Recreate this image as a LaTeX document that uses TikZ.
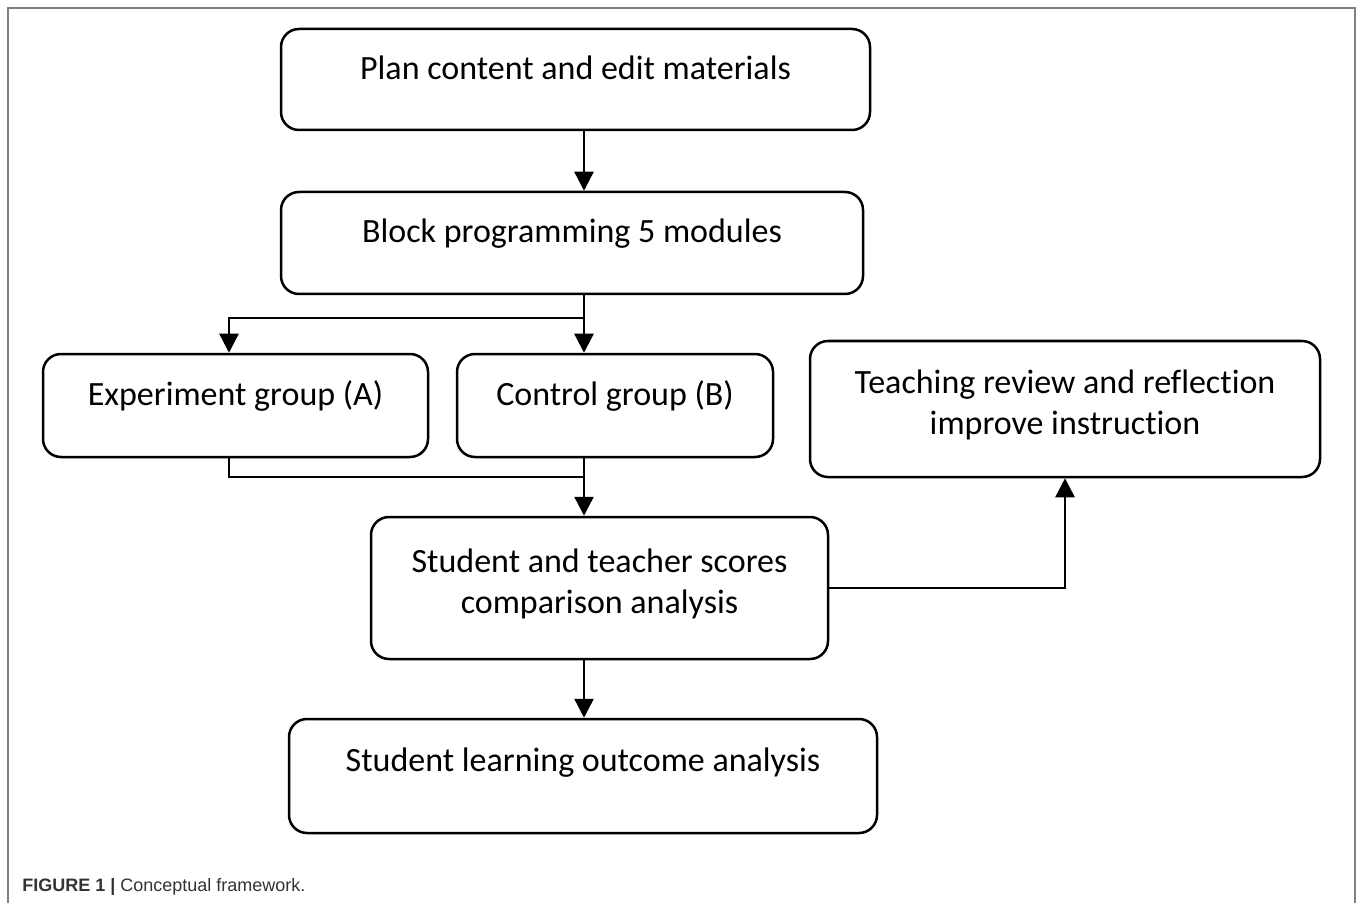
\documentclass[tikz,border=0pt]{standalone}
\usepackage{fontspec}
\setmainfont{Carlito}[Ligatures={NoCommon,NoDiscretionary,NoRare}]
\newfontfamily\capfont{Liberation Sans}
\usetikzlibrary{arrows.meta}
\begin{document}
\begin{tikzpicture}[x=0.5pt,y=-0.5pt,
  box/.style={draw=black, line width=1.25pt, rounded corners=9pt, inner sep=0pt,
    align=center, font=\fontsize{17}{20.5}\selectfont, text height=0pt, text depth=0pt},
  link/.style={line width=1.25pt},
  arr/.style={link, -{Triangle[width=9.5pt,length=9.5pt]}},
  framestyle/.style={draw=black!50, line width=1pt}]
\useasboundingbox (0,0) rectangle (1358,903);
\draw[framestyle] (8,903) -- (8,8) -- (1355,8) -- (1355,903);

\node[box, minimum width=294.5pt, minimum height=50.5pt] (b1) at (575.5,79.5) {Plan content and edit materials};
\node[box, minimum width=291pt, minimum height=51pt] (b2) at (572,243) {Block programming 5 modules};
\node[box, minimum width=192.5pt, minimum height=51.5pt] (b3) at (235.5,405.5) {Experiment group (A)};
\node[box, minimum width=158pt, minimum height=51.5pt] (b4) at (615,405.5) {Control group (B)};
\node[box, minimum width=255pt, minimum height=68pt, text height=25pt] (b5) at (1065,409) {Teaching review and re{}flection\\improve instruction};
\node[box, minimum width=228.5pt, minimum height=71pt, text height=25pt] (b6) at (599.5,588) {Student and teacher scores\\comparison analysis};
\node[box, minimum width=294pt, minimum height=57pt, text depth=5pt] (b7) at (583,776) {Student learning outcome analysis};

\node[anchor=base west, inner sep=0pt, text=black!80, font=\capfont\fontsize{9}{11}\selectfont] (cap) at (22,891) {\textbf{FIGURE 1 |} Conceptual framework.};

\coordinate (t) at (584,0);
\coordinate (split) at (584,318);
\coordinate (sl) at (229,318);
\coordinate (merge) at (584,477);
\coordinate (ml) at (229,477);

\draw[arr] (b1.south -| t) -- (b2.north -| t);
\draw[link] (b2.south -| t) -- (split);
\draw[arr] (split) -- (b4.north -| t);
\draw[arr] (split) -- (sl) -- (b3.north -| sl);
\draw[link] (b3.south -| ml) -- (ml) -- (merge);
\draw[arr] (b4.south -| t) -- (b6.north -| t);
\draw[arr] (b6.east) -| (b5.south);
\draw[arr] (b6.south -| t) -- (b7.north -| t);
\end{tikzpicture}
\end{document}
